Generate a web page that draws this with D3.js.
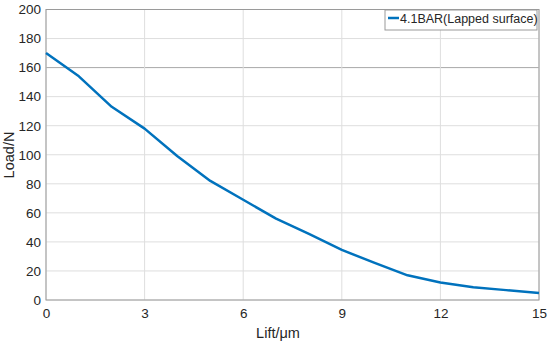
<!DOCTYPE html>
<html>
<head>
<meta charset="utf-8">
<script src="https://cdn.jsdelivr.net/npm/d3@7.9.0/dist/d3.min.js"></script>
<style>
  body { margin: 0; background: #fff; }
  svg { display: block; font-family: "Liberation Sans", Arial, sans-serif; }
</style>
</head>
<body>
<svg id="chart" width="550" height="343"></svg>
<script>
// lift in micrometres and the load
const lift = [0, 1, 2, 3, 4, 5, 6, 7, 8, 9, 10, 11, 12, 13, 14, 15];
const load = [170, 154, 133, 118, 99, 82, 69, 56, 45.5, 34.5, 25.5, 17, 12, 8.8, 6.8, 4.8];
const xTicks = [0, 3, 6, 9, 12, 15];
const yTicks = [0, 20, 40, 60, 80, 100, 120, 140, 160, 180, 200];
const seriesName = '4.1BAR(Lapped surface)';

const margin = { top: 9.5, right: 11, bottom: 43, left: 46 };
const width = 550 - margin.left - margin.right;
const height = 343 - margin.top - margin.bottom;

const svg = d3.select('#chart');
const g = svg.append('g').attr('transform', `translate(${margin.left},${margin.top})`);

const x = d3.scaleLinear().domain([0, 15]).range([0, width]);
const y = d3.scaleLinear().domain([0, 200]).range([height, 0]);

// grid
g.append('g')
  .selectAll('line')
  .data(yTicks)
  .join('line')
  .attr('x1', 0).attr('x2', width)
  .attr('y1', d => y(d)).attr('y2', d => y(d))
  .attr('stroke', d => d === 160 ? '#a8a8a8' : '#dedede')
  .attr('stroke-width', 1);

g.append('g')
  .selectAll('line')
  .data(xTicks)
  .join('line')
  .attr('x1', d => x(d)).attr('x2', d => x(d))
  .attr('y1', 0).attr('y2', height)
  .attr('stroke', '#dedede')
  .attr('stroke-width', 1);

// axes
const xAxis = g.append('g')
  .attr('transform', `translate(0,${height})`)
  .call(d3.axisBottom(x).tickValues(xTicks).tickSize(0).tickPadding(8));
const yAxis = g.append('g')
  .call(d3.axisLeft(y).tickValues(yTicks).tickSize(0).tickPadding(5));

[xAxis, yAxis].forEach(a => {
  a.select('.domain').remove();
  a.selectAll('text')
    .attr('fill', '#262626')
    .style('font-size', '13.5px')
    .style('font-family', '"Liberation Sans", Arial, sans-serif');
});

// frame
g.append('rect')
  .attr('x', 0).attr('y', 0)
  .attr('width', width).attr('height', height)
  .attr('fill', 'none')
  .attr('stroke', '#9a9a9a')
  .attr('stroke-width', 1);

// curve
const line = d3.line()
  .x((d, i) => x(lift[i]))
  .y(d => y(d));

g.append('path')
  .datum(load)
  .attr('d', line)
  .attr('fill', 'none')
  .attr('stroke', '#0072BD')
  .attr('stroke-width', 2.5)
  .attr('stroke-linejoin', 'round');

// axis titles
svg.append('text')
  .attr('x', 278).attr('y', 338)
  .attr('text-anchor', 'middle')
  .attr('fill', '#262626')
  .style('font-size', '14.5px')
  .text('Lift/μm');

svg.append('text')
  .attr('transform', `translate(14,155) rotate(-90)`)
  .attr('text-anchor', 'middle')
  .attr('fill', '#262626')
  .style('font-size', '14.5px')
  .text('Load/N');

// legend
const legend = svg.append('g').attr('transform', 'translate(385,10)');
legend.append('rect')
  .attr('width', 152).attr('height', 20)
  .attr('fill', '#fff')
  .attr('stroke', '#9a9a9a')
  .attr('stroke-width', 1);
legend.append('line')
  .attr('x1', 3).attr('x2', 14)
  .attr('y1', 8).attr('y2', 8)
  .attr('stroke', '#0072BD')
  .attr('stroke-width', 2.5);
legend.append('text')
  .attr('x', 15).attr('y', 12.5)
  .attr('fill', '#262626')
  .style('font-size', '12.5px')
  .text(seriesName);
</script>
</body>
</html>
